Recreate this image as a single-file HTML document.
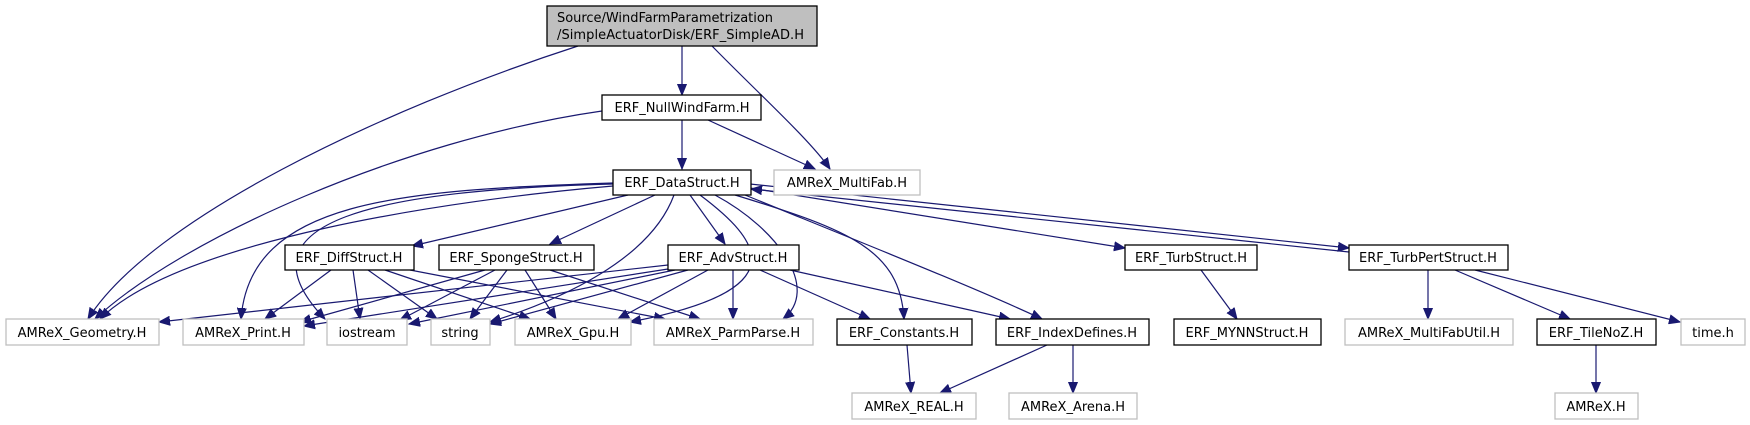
<!DOCTYPE html>
<html><head><meta charset="utf-8"><style>
html,body{margin:0;padding:0;background:#fff;}
svg{display:block;}
text{font-family:"DejaVu Sans","Liberation Sans",sans-serif;font-size:13px;fill:#000;}
.g{fill:#fff;stroke:#bfbfbf;stroke-width:1.3;}
.b{fill:#fff;stroke:#000;stroke-width:1.3;}
.e{fill:none;stroke:#191970;stroke-width:1.2;}
</style></head><body>
<svg width="1750" height="425" viewBox="0 0 1750 425" xmlns="http://www.w3.org/2000/svg">
<defs>
<marker id="a" markerUnits="userSpaceOnUse" markerWidth="12" markerHeight="10" refX="11" refY="5" orient="auto">
<path d="M0,0.5 L11,5 L0,9.5 Z" fill="#191970" stroke="#191970"/>
</marker>
</defs>
<g marker-end="url(#a)">
<!-- top -->
<path class="e" d="M682,46 L682,95"/>
<path class="e" d="M712,46 C760,95 810,140 830,169"/>
<path class="e" d="M578,46 C380,110 150,220 88,319"/>
<path class="e" d="M602,111 C400,140 180,240 95,319"/>
<path class="e" d="M682,120 L682,169"/>
<path class="e" d="M708,120 L815,169"/>
<!-- DataStruct -->
<path class="e" d="M628,195 L412,246"/>
<path class="e" d="M655,195 L550,244"/>
<path class="e" d="M690,195 L725,244"/>
<path class="e" d="M613,186 C450,200 180,240 100,319"/>
<path class="e" d="M613,183 C400,190 250,200 241,319"/>
<path class="e" d="M613,184 C380,190 230,220 325,319"/>
<path class="e" d="M674,195 C650,260 560,300 490,322"/>
<path class="e" d="M700,195 C760,240 800,290 630,322"/>
<path class="e" d="M715,195 C780,230 820,290 783,319"/>
<path class="e" d="M735,195 C850,230 900,250 904,319"/>
<path class="e" d="M745,195 C880,250 980,290 1042,319"/>
<path class="e" d="M750,188 L1125,248"/>
<path class="e" d="M750,184 L1349,248"/>
<path class="e" d="M1349,252 L751,189"/>
<!-- Diff -->
<path class="e" d="M331,270 L265,319"/>
<path class="e" d="M353,270 L360,319"/>
<path class="e" d="M368,270 L437,319"/>
<path class="e" d="M385,270 L530,319"/>
<path class="e" d="M410,270 L665,319"/>
<!-- Sponge -->
<path class="e" d="M485,270 L300,322"/>
<path class="e" d="M495,270 L400,320"/>
<path class="e" d="M507,270 L470,319"/>
<path class="e" d="M525,270 L556,319"/>
<path class="e" d="M550,270 L700,319"/>
<!-- Adv -->
<path class="e" d="M668,265 L159,322"/>
<path class="e" d="M668,269 L304,326"/>
<path class="e" d="M675,270 L409,324"/>
<path class="e" d="M688,270 L490,324"/>
<path class="e" d="M708,270 L618,319"/>
<path class="e" d="M733,270 L733,319"/>
<path class="e" d="M760,270 L870,319"/>
<path class="e" d="M790,270 L1010,319"/>
<!-- right -->
<path class="e" d="M1201,270 L1237,319"/>
<path class="e" d="M1428,270 L1428,319"/>
<path class="e" d="M1455,270 L1570,319"/>
<path class="e" d="M1475,270 L1680,322"/>
<path class="e" d="M907,345 L911,393"/>
<path class="e" d="M1047,345 L940,393"/>
<path class="e" d="M1073,345 L1073,393"/>
<path class="e" d="M1596,345 L1596,393"/>
</g>
<!-- nodes -->
<rect x="547" y="6" width="270" height="40" fill="#bfbfbf" stroke="#000" stroke-width="1.3"/>
<text x="557" y="22" textLength="216">Source/WindFarmParametrization</text>
<text x="557" y="39" textLength="247">/SimpleActuatorDisk/ERF_SimpleAD.H</text>

<rect class="b" x="602" y="95" width="159" height="25"/><text x="682" y="112" text-anchor="middle">ERF_NullWindFarm.H</text>
<rect class="b" x="613" y="170" width="138" height="25"/><text x="682" y="187" text-anchor="middle">ERF_DataStruct.H</text>
<rect class="g" x="774" y="170" width="146" height="25"/><text x="847" y="187" text-anchor="middle">AMReX_MultiFab.H</text>

<rect class="b" x="285" y="245" width="129" height="25"/><text x="349" y="262" text-anchor="middle">ERF_DiffStruct.H</text>
<rect class="b" x="439" y="245" width="155" height="25"/><text x="516" y="262" text-anchor="middle">ERF_SpongeStruct.H</text>
<rect class="b" x="668" y="245" width="131" height="25"/><text x="733" y="262" text-anchor="middle">ERF_AdvStruct.H</text>
<rect class="b" x="1125" y="245" width="132" height="25"/><text x="1191" y="262" text-anchor="middle">ERF_TurbStruct.H</text>
<rect class="b" x="1349" y="245" width="159" height="25"/><text x="1428" y="262" text-anchor="middle">ERF_TurbPertStruct.H</text>

<rect class="g" x="6" y="319" width="153" height="26"/><text x="82" y="337" text-anchor="middle">AMReX_Geometry.H</text>
<rect class="g" x="183" y="319" width="121" height="26"/><text x="243" y="337" text-anchor="middle">AMReX_Print.H</text>
<rect class="g" x="327" y="319" width="80" height="26"/><text x="367" y="337" text-anchor="middle">iostream</text>
<rect class="g" x="431" y="319" width="59" height="26"/><text x="460" y="337" text-anchor="middle">string</text>
<rect class="g" x="515" y="319" width="116" height="26"/><text x="573" y="337" text-anchor="middle">AMReX_Gpu.H</text>
<rect class="g" x="654" y="319" width="159" height="26"/><text x="733" y="337" text-anchor="middle">AMReX_ParmParse.H</text>
<rect class="b" x="837" y="319" width="135" height="26"/><text x="904" y="337" text-anchor="middle">ERF_Constants.H</text>
<rect class="b" x="996" y="319" width="153" height="26"/><text x="1072" y="337" text-anchor="middle">ERF_IndexDefines.H</text>
<rect class="b" x="1174" y="319" width="147" height="26"/><text x="1247" y="337" text-anchor="middle">ERF_MYNNStruct.H</text>
<rect class="g" x="1345" y="319" width="168" height="26"/><text x="1429" y="337" text-anchor="middle">AMReX_MultiFabUtil.H</text>
<rect class="b" x="1537" y="319" width="119" height="26"/><text x="1596" y="337" text-anchor="middle">ERF_TileNoZ.H</text>
<rect class="g" x="1681" y="319" width="64" height="26"/><text x="1713" y="337" text-anchor="middle">time.h</text>

<rect class="g" x="852" y="393" width="124" height="26"/><text x="914" y="411" text-anchor="middle">AMReX_REAL.H</text>
<rect class="g" x="1009" y="393" width="128" height="26"/><text x="1073" y="411" text-anchor="middle">AMReX_Arena.H</text>
<rect class="g" x="1555" y="393" width="83" height="26"/><text x="1596" y="411" text-anchor="middle">AMReX.H</text>
</svg>
</body></html>
